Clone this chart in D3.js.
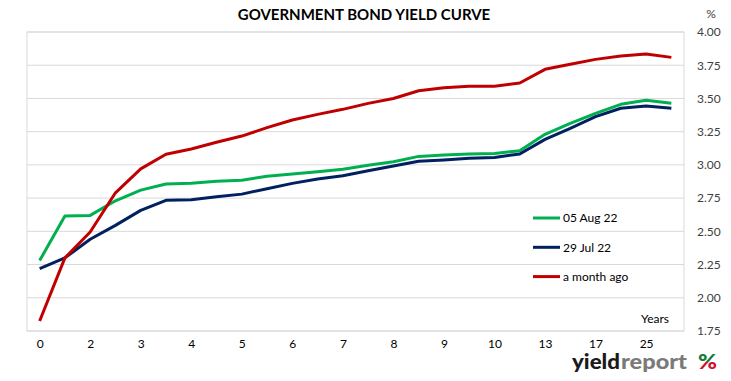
<!DOCTYPE html>
<html>
<head>
<meta charset="utf-8">
<script src="https://cdn.jsdelivr.net/npm/d3@7"></script>
<style>
  body { margin: 0; background: #fff; }
  text { font-family: Lato, "Open Sans", sans-serif; }
</style>
</head>
<body>
<script>
// maturities (years) - only every second one gets a label
var categories = ["0","1","2","2.5","3","3.5","4","4.5","5","5.5","6","6.5","7","7.5","8","8.5","9","9.5","10","12","13","15","17","20","25","30"];
var tickLabels = ["0","2","3","4","5","6","7","8","9","10","13","17","25"];
var yTicks = [1.75,2.00,2.25,2.50,2.75,3.00,3.25,3.50,3.75,4.00];

var seriesNames = ["05 Aug 22","29 Jul 22","a month ago"];
var aug05 = [2.28,2.615,2.62,2.73,2.81,2.856,2.861,2.876,2.884,2.915,2.931,2.949,2.967,2.997,3.024,3.064,3.074,3.082,3.086,3.107,3.23,3.313,3.388,3.456,3.486,3.463];
var jul29 = [2.219,2.30,2.44,2.545,2.658,2.733,2.738,2.76,2.78,2.821,2.861,2.894,2.918,2.956,2.991,3.027,3.037,3.05,3.056,3.082,3.192,3.275,3.363,3.426,3.443,3.426];
var monthAgo = [1.825,2.30,2.495,2.79,2.97,3.08,3.12,3.17,3.217,3.28,3.338,3.38,3.418,3.463,3.50,3.558,3.58,3.591,3.592,3.616,3.719,3.757,3.794,3.819,3.834,3.809];

var width = 731, height = 381;
// plot area (kept off "top", which is a window property)
var plotLeft = 27, plotRight = 684, plotTop = 32, plotBottom = 331;
var colors = ["#00b050", "#002060", "#c00000"];
var series = [aug05, jul29, monthAgo];

var svg = d3.select("body").append("svg").attr("width", width).attr("height", height);

var x = d3.scalePoint().domain(categories).range([plotLeft, plotRight]).padding(0.5);
var y = d3.scaleLinear().domain([1.75, 4]).range([plotBottom, plotTop]);

// gridlines
svg.append("g").selectAll("line").data(yTicks).enter().append("line")
    .attr("x1", plotLeft).attr("x2", plotRight)
    .attr("y1", function(d) { return y(d); }).attr("y2", function(d) { return y(d); })
    .attr("stroke", "#d9d9d9").attr("stroke-width", 1);
// plot border
svg.append("rect").attr("x", plotLeft).attr("y", plotTop)
    .attr("width", plotRight - plotLeft).attr("height", plotBottom - plotTop)
    .attr("fill", "none").attr("stroke", "#d9d9d9");

// y axis on the right
var yAxis = d3.axisRight(y).tickValues(yTicks).tickFormat(d3.format(".2f")).tickSize(0).tickPadding(12);
var yg = svg.append("g").attr("transform", "translate(" + (plotRight + 1) + ",0)").call(yAxis);
yg.select(".domain").remove();
yg.selectAll("text").attr("font-size", 12).attr("fill", "#404040").attr("font-family", "Lato, sans-serif");

// x axis
var xAxis = d3.axisBottom(x).tickSize(0).tickPadding(8)
    .tickFormat(function(d) { return tickLabels.indexOf(d) >= 0 ? d : ""; });
var xg = svg.append("g").attr("transform", "translate(0," + plotBottom + ")").call(xAxis);
xg.select(".domain").remove();
xg.selectAll("text").attr("font-size", 12).attr("fill", "#000").attr("font-family", "Lato, sans-serif");

// lines
var line = d3.line().x(function(d, i) { return x(categories[i]); }).y(function(d) { return y(d); });
series.forEach(function(s, k) {
    svg.append("path").datum(s).attr("d", line)
        .attr("fill", "none").attr("stroke", colors[k]).attr("stroke-width", 3)
        .attr("stroke-linejoin", "round");
});

// legend
var legend = svg.append("g").selectAll("g").data(seriesNames).enter().append("g")
    .attr("transform", function(d, i) { return "translate(533," + (218 + i * 29.3) + ")"; });
legend.append("line").attr("x1", 0).attr("x2", 27)
    .attr("stroke", function(d, i) { return colors[i]; }).attr("stroke-width", 3);
legend.append("text").attr("x", 30).attr("dy", "0.35em").attr("font-size", 12).attr("fill", "#000")
    .text(function(d) { return d; });

// title and small labels
svg.append("text").attr("x", 364).attr("y", 20).attr("text-anchor", "middle")
    .attr("font-size", 15).attr("font-weight", "bold").attr("fill", "#000")
    .text("GOVERNMENT BOND YIELD CURVE");
svg.append("text").attr("x", 711).attr("y", 18).attr("text-anchor", "middle")
    .attr("font-size", 12).attr("fill", "#404040").text("%");
svg.append("text").attr("x", 641).attr("y", 323).attr("font-size", 12).attr("fill", "#000").text("Years");

// logo
var grad = svg.append("defs").append("linearGradient").attr("id", "pct")
    .attr("x1", 0).attr("y1", 0).attr("x2", 0).attr("y2", 1);
grad.append("stop").attr("offset", "55%").attr("stop-color", "#1a7a3a");
grad.append("stop").attr("offset", "55%").attr("stop-color", "#d0102a");
svg.append("text").attr("x", 572).attr("y", 369).attr("font-size", 20).attr("font-weight", 900)
    .attr("fill", "#1a1a1a").attr("textLength", 48).attr("lengthAdjust", "spacingAndGlyphs").text("yield");
svg.append("text").attr("x", 621).attr("y", 369).attr("font-size", 20).attr("font-weight", 900)
    .attr("fill", "#7a7a7a").attr("textLength", 66).attr("lengthAdjust", "spacingAndGlyphs").text("report");
svg.append("text").attr("x", 698).attr("y", 369).attr("font-size", 21).attr("font-weight", 900)
    .attr("fill", "url(#pct)").attr("textLength", 19).attr("lengthAdjust", "spacingAndGlyphs").text("%");
</script>
</body>
</html>
